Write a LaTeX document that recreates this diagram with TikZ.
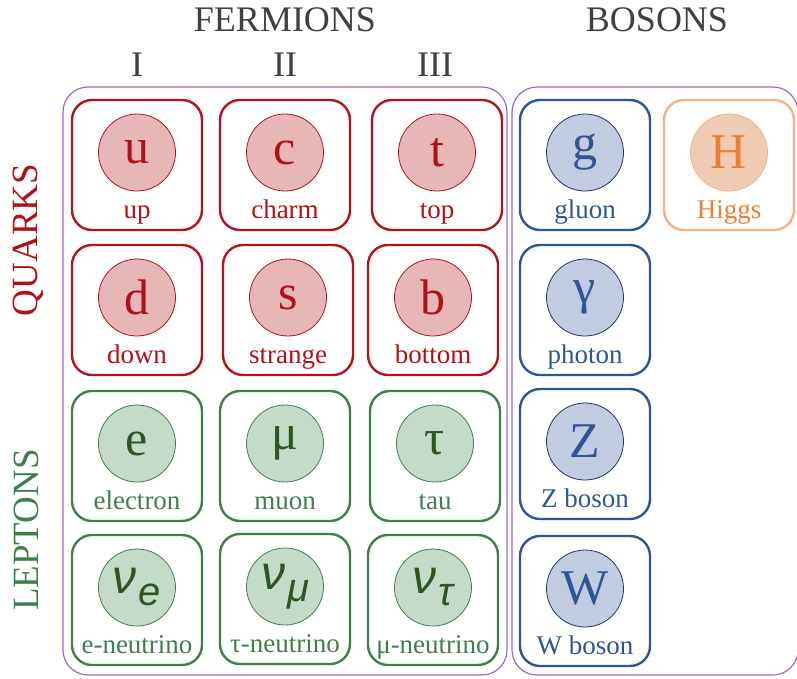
\documentclass[tikz,border=0pt]{standalone}
\usepackage{fontspec}
\setmainfont{Liberation Serif}
\newfontfamily\nufont{Liberation Sans}
\definecolor{qstroke}{HTML}{B3141C}
\definecolor{qfill}{HTML}{E7B7B7}
\definecolor{qtext}{HTML}{B01018}
\definecolor{lstroke}{HTML}{3E7F4B}
\definecolor{lfill}{HTML}{C5DBC9}
\definecolor{lsym}{HTML}{2E5620}
\definecolor{bstroke}{HTML}{2F5597}
\definecolor{bfill}{HTML}{C2CCE0}
\definecolor{bcirc}{HTML}{203864}
\definecolor{hstroke}{HTML}{F4B183}
\definecolor{hfill}{HTML}{EFCBB3}
\definecolor{htext}{HTML}{ED7D31}
\definecolor{outerc}{HTML}{9A68C8}
\definecolor{headc}{HTML}{404040}
\tikzset{
  cellbox/.style={draw, line width=2.4pt, rounded corners=20pt, minimum width=130pt, minimum height=130pt, inner sep=0pt},
  cellcirc/.style={circle, draw, line width=0.8pt, minimum size=77pt, inner sep=0pt, font=\fontsize{50}{50}\selectfont},
  celllab/.style={anchor=base, inner sep=0pt, font=\fontsize{27}{27}\selectfont},
  qbox/.style={cellbox, qstroke},
  qcirc/.style={cellcirc, draw=qstroke, fill=qfill, text=qtext},
  qlab/.style={celllab, text=qtext},
  lbox/.style={cellbox, lstroke},
  lcirc/.style={cellcirc, draw=lstroke, fill=lfill, text=lsym},
  llab/.style={celllab, text=lstroke},
  bbox/.style={cellbox, bstroke},
  bcircle/.style={cellcirc, draw=bcirc, fill=bfill, text=bstroke},
  blab/.style={celllab, text=bstroke},
  horbox/.style={cellbox, hstroke},
  horcirc/.style={cellcirc, draw=hstroke, fill=hfill, text=htext},
  horlab/.style={celllab, text=htext},
  outerbox/.style={draw=outerc, line width=1.2pt, rounded corners=25pt, inner sep=0pt},
  header/.style={text=headc, inner sep=0pt, font=\fontsize{36}{36}\selectfont},
  sidelab/.style={inner sep=0pt, rotate=90, font=\fontsize{37}{37}\selectfont},
}
\newcommand{\pcell}[6]{%
  \node[#4box] (#1) at (#2,#3) {};
  \node[#4circ] (#1c) at (#2,{#3-12.5}) {#5};
  \node[#4lab] (#1l) at (#2,{#3+53}) {#6};
}
\newcommand{\bcell}[5]{%
  \node[bbox] (#1) at (#2,#3) {};
  \node[bcircle] (#1c) at (#2,{#3-12.5}) {#4};
  \node[blab] (#1l) at (#2,{#3+53}) {#5};
}
\newcommand{\nusym}[1]{{\nufont\itshape\fontsize{48}{48}\selectfont ν\kern2pt\raisebox{-12pt}{\fontsize{40}{40}\selectfont #1}}}
\begin{document}
\begin{tikzpicture}[x=1pt,y=-1pt]
\useasboundingbox (0,0) rectangle (797,678);
% outer boxes
\node[outerbox, minimum width=444pt, minimum height=588pt] (ferm) at (285,381) {};
\node[outerbox, minimum width=286pt, minimum height=588pt] (bos) at (655,381) {};
% headers
\node[header] (hf) at (285,20) {FERMIONS};
\node[header] (hb) at (657,20) {BOSONS};
\node[header] (g1) at (137,65) {I};
\node[header] (g2) at (285,65) {II};
\node[header] (g3) at (435,65) {III};
\node[sidelab, text=qtext] (quarks) at (28,240) {QUARKS};
\node[sidelab, text=lstroke] (leptons) at (26,530) {LEPTONS};
% quarks
\pcell{u}{137}{165}{q}{u}{up}
\pcell{c}{285}{165}{q}{c}{charm}
\pcell{t}{437}{165}{q}{t}{top}
\pcell{d}{137}{310}{q}{d}{down}
\pcell{s}{288}{310}{q}{s}{strange}
\pcell{b}{433}{310}{q}{b}{bottom}
% leptons
\pcell{e}{137}{456}{l}{e}{electron}
\pcell{mu}{285}{456}{l}{μ}{muon}
\pcell{tau}{435}{456}{l}{τ}{tau}
\pcell{ve}{137}{600}{l}{\nusym{e}}{e-neutrino}
\pcell{vmu}{285}{599}{l}{\nusym{μ}}{τ-neutrino}
\pcell{vtau}{433}{600}{l}{\nusym{τ}}{μ-neutrino}
% bosons
\bcell{g}{585}{165}{g}{gluon}
\bcell{gam}{585}{310}{γ}{photon}
\bcell{Z}{585}{454}{Z}{Z boson}
\bcell{W}{585}{601}{W}{W boson}
\pcell{H}{729}{165}{hor}{H}{Higgs}
\end{tikzpicture}
\end{document}
